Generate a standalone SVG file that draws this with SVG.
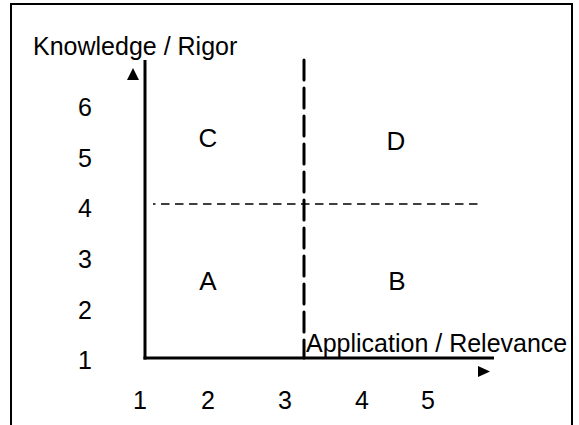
<svg xmlns="http://www.w3.org/2000/svg" width="579" height="425" viewBox="0 0 579 425">
<style>
text{font-family:"Liberation Sans",Arial,sans-serif;font-size:25px;fill:#000}
.num{text-anchor:middle}
.big{font-size:26px}
.axis{stroke:#000;stroke-width:3;fill:none}
</style>
<rect x="0" y="0" width="579" height="425" fill="#fff"/>
<path d="M11,425 V4 H572 V425" fill="none" stroke="#000" stroke-width="2"/>
<g id="connectors">
<line class="axis" x1="145" y1="60" x2="145" y2="359.5"/>
<line class="axis" x1="143.5" y1="358" x2="494" y2="358"/>
<polygon points="127,80 133,68 139,80" fill="#000"/>
<polygon points="478,366 490,371.5 478,377" fill="#000"/>
<line x1="304" y1="60" x2="304" y2="358" stroke="#000" stroke-width="3" stroke-dasharray="20 8" stroke-linecap="round"/>
<line x1="153" y1="204" x2="482" y2="204" stroke="#000" stroke-width="1.5" stroke-dasharray="8.5 5.5" stroke-dashoffset="6"/>
</g>
<g id="title-y"><text x="33" y="55">Knowledge / Rigor</text></g>
<g id="title-x"><text x="306" y="352">Application / Relevance</text></g>
<g id="y-ticks">
<text class="num" x="85" y="116">6</text>
<text class="num" x="85" y="167">5</text>
<text class="num" x="85" y="217">4</text>
<text class="num" x="85" y="268">3</text>
<text class="num" x="85" y="319">2</text>
<text class="num" x="85" y="369">1</text>
</g>
<g id="x-ticks">
<text class="num" x="140" y="409">1</text>
<text class="num" x="208" y="409">2</text>
<text class="num" x="285" y="409">3</text>
<text class="num" x="362" y="409">4</text>
<text class="num" x="428" y="409">5</text>
</g>
<g id="quadC"><text class="num big" x="208" y="147">C</text></g>
<g id="quadD"><text class="num big" x="396" y="150">D</text></g>
<g id="quadA"><text class="num big" x="208" y="290">A</text></g>
<g id="quadB"><text class="num big" x="397" y="290">B</text></g>
</svg>
